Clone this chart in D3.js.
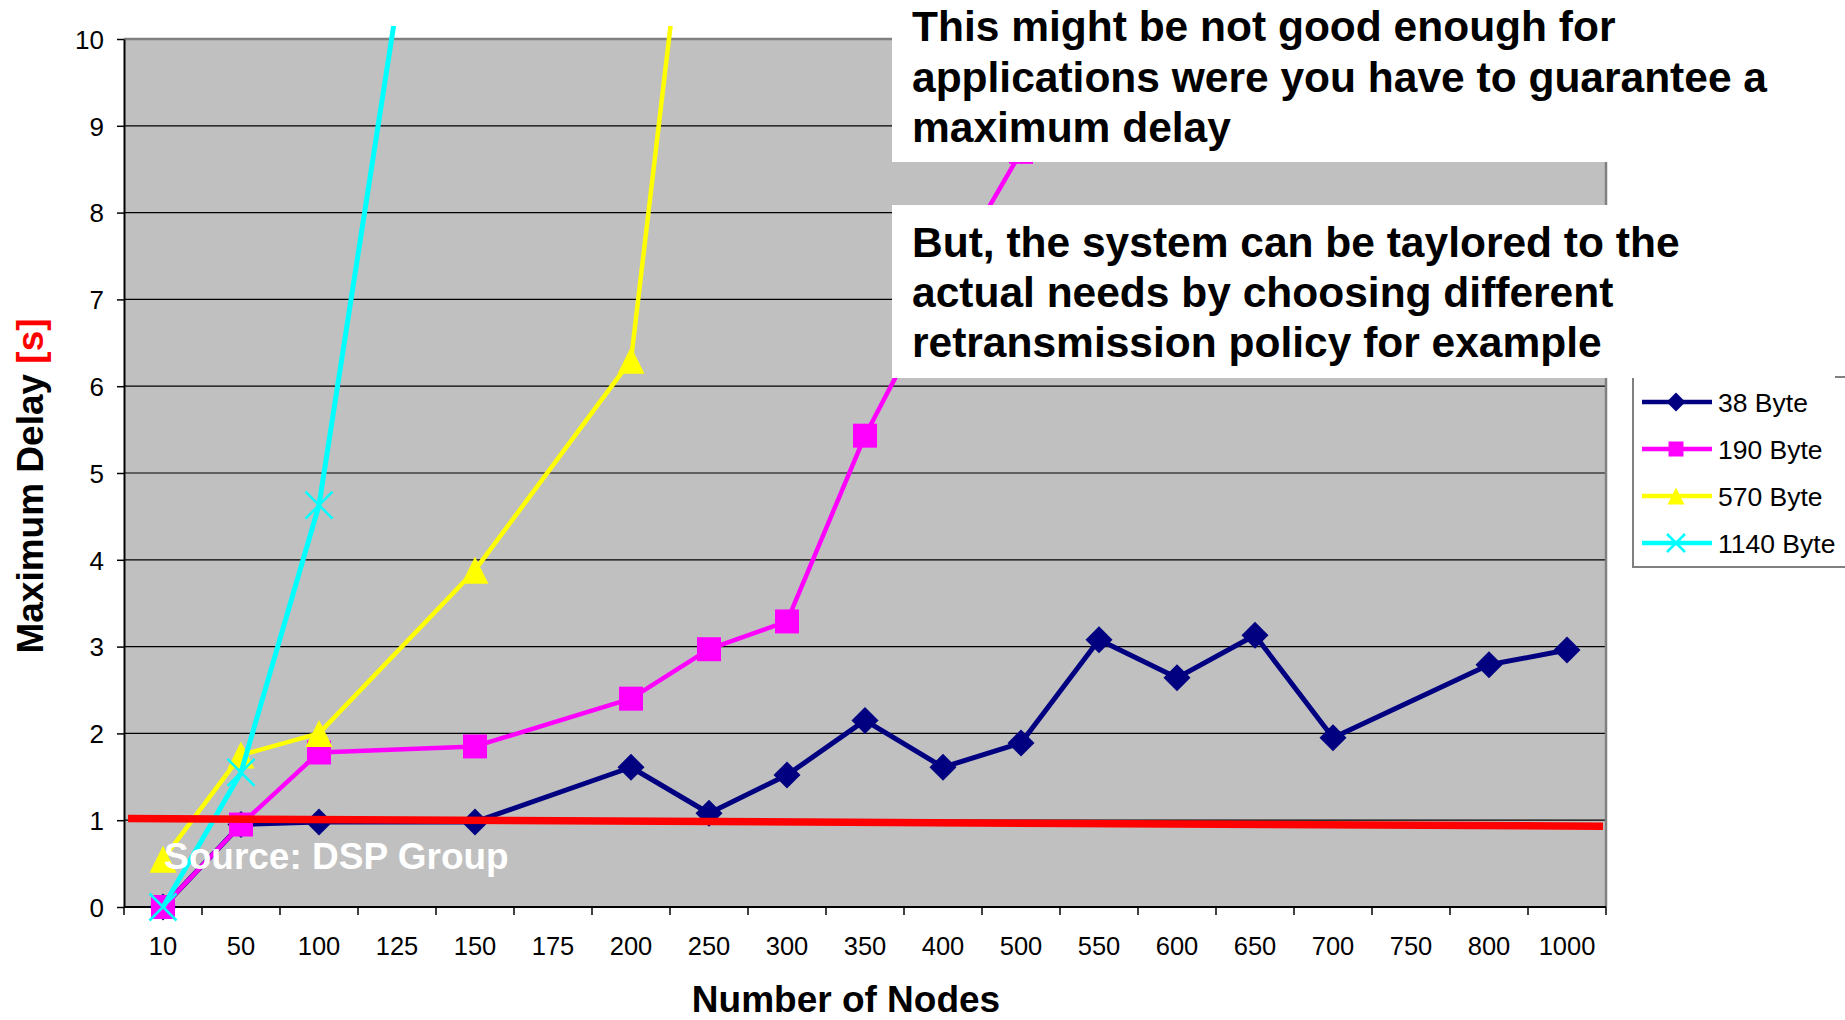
<!DOCTYPE html>
<html>
<head>
<meta charset="utf-8">
<script src="https://cdn.jsdelivr.net/npm/d3@7"></script>
<style>
  body { margin: 0; background: #fff; }
  svg { display: block; }
  text { font-family: "Liberation Sans", Arial, sans-serif; }
</style>
</head>
<body>
<svg id="chart" width="1845" height="1020"></svg>
<script>
// categories on the x axis (number of nodes)
const nodes = ['10', '50', '100', '125', '150', '175', '200', '250', '300', '350',
               '400', '500', '550', '600', '650', '700', '750', '800', '1000'];

// maximum delay [s] per packet size, null = no measurement
const byte38   = [0, 0.95, 0.98, null, 0.98, null, 1.61, 1.08, 1.52, 2.15,
                  1.61, 1.89, 3.08, 2.64, 3.13, 1.95, null, 2.79, 2.96];
const byte190  = [0, 0.95, 1.78, null, 1.85, null, 2.40, 2.97, 3.29, 5.43,
                  7.15, 8.70, null, null, null, null, null, null, null];
const byte570  = [0.55, 1.75, 2.0, null, 3.88, null, 6.3, 13.9, null, null,
                  null, null, null, null, null, null, null, null, null];
const byte1140 = [0, 1.55, 4.63, 10.4, null, null, null, null, null, null,
                  null, null, null, null, null, null, null, null, null];

const seriesNames = ['38 Byte', '190 Byte', '570 Byte', '1140 Byte'];
const yTicks = [0, 1, 2, 3, 4, 5, 6, 7, 8, 9, 10];

// the hand drawn "1 s" limit, value at left and right end of the plot
const limitLine = [1.02, 0.93];

const noteTop = ['This might be not good enough for',
                 'applications were you have to guarantee a',
                 'maximum delay'];
const noteBottom = ['But, the system can be taylored to the',
                    'actual needs by choosing different',
                    'retransmission policy for example'];

const series = [
  {name: seriesNames[0], values: byte38,   color: '#000080', width: 5,   marker: 'diamond'},
  {name: seriesNames[1], values: byte190,  color: '#FF00FF', width: 4.5, marker: 'square'},
  {name: seriesNames[2], values: byte570,  color: '#FFFF00', width: 4.5, marker: 'triangle'},
  {name: seriesNames[3], values: byte1140, color: '#00FFFF', width: 5,   marker: 'cross'}
];

const svg = d3.select('#chart');
const plot = {left: 124, right: 1606, top: 39, bottom: 907};

const x = d3.scaleBand().domain(nodes).range([plot.left, plot.right]);
const y = d3.scaleLinear().domain([0, 10]).range([plot.bottom, plot.top]);
const cx = c => x(c) + x.bandwidth() / 2;

// marker shapes, s = full size
function markerPath(type, s) {
  const h = s / 2;
  if (type === 'diamond') return `M0,${-h}L${h},0L0,${h}L${-h},0Z`;
  if (type === 'square') return `M${-h},${-h}H${h}V${h}H${-h}Z`;
  if (type === 'triangle') return `M0,${-h}L${h},${h}H${-h}Z`;
  return `M${-h},${-h}L${h},${h}M${h},${-h}L${-h},${h}`;
}

// plot background
svg.append('rect')
  .attr('x', plot.left).attr('y', plot.top)
  .attr('width', plot.right - plot.left).attr('height', plot.bottom - plot.top)
  .attr('fill', '#C0C0C0');

// grid lines
svg.append('g').selectAll('line')
  .data(yTicks.filter(t => t > 0 && t < 10))
  .join('line')
  .attr('x1', plot.left).attr('x2', plot.right)
  .attr('y1', d => y(d)).attr('y2', d => y(d))
  .attr('stroke', '#000').attr('stroke-width', 1.2);

// top and right border
svg.append('path')
  .attr('d', `M${plot.left},${plot.top}H${plot.right}V${plot.bottom}`)
  .attr('fill', 'none').attr('stroke', '#808080').attr('stroke-width', 2.5);

// y axis
const yAxis = svg.append('g')
  .attr('transform', `translate(${plot.left},0)`)
  .call(d3.axisLeft(y).tickValues(yTicks).tickSize(7).tickPadding(13).tickSizeOuter(0));
yAxis.select('.domain').attr('stroke', '#000').attr('stroke-width', 2);
yAxis.selectAll('.tick line').attr('stroke', '#000').attr('stroke-width', 1.5);
yAxis.selectAll('.tick text')
  .attr('font-size', 26).attr('fill', '#000').attr('dy', '0.36em')
  .style('font-family', '"Liberation Sans", Arial, sans-serif');

// x axis: line, ticks between categories, labels centred in the bands
svg.append('line')
  .attr('x1', plot.left).attr('x2', plot.right)
  .attr('y1', plot.bottom).attr('y2', plot.bottom)
  .attr('stroke', '#000').attr('stroke-width', 2);

svg.append('g').selectAll('line')
  .data(nodes.concat(['end']))
  .join('line')
  .attr('x1', d => d === 'end' ? plot.right : x(d))
  .attr('x2', d => d === 'end' ? plot.right : x(d))
  .attr('y1', plot.bottom).attr('y2', plot.bottom + 8)
  .attr('stroke', '#000').attr('stroke-width', 1.5);

svg.append('g').selectAll('text')
  .data(nodes)
  .join('text')
  .attr('x', d => cx(d))
  .attr('y', 955)
  .attr('text-anchor', 'middle')
  .attr('font-size', 25.5)
  .text(d => d);

// axis titles
svg.append('text')
  .attr('x', 846).attr('y', 1012)
  .attr('text-anchor', 'middle')
  .attr('font-size', 37).attr('font-weight', 'bold')
  .text('Number of Nodes');

const yTitle = svg.append('text')
  .attr('transform', 'translate(43,486) rotate(-90)')
  .attr('text-anchor', 'middle')
  .attr('font-size', 37).attr('font-weight', 'bold');
yTitle.append('tspan').text('Maximum Delay ');
yTitle.append('tspan').attr('fill', '#FF0000').text('[s]');

// series (clipped a little above the plot top like the original)
svg.append('defs').append('clipPath').attr('id', 'clip')
  .append('rect')
  .attr('x', 0).attr('y', plot.top - 13)
  .attr('width', 1845).attr('height', 1020);

const layer = svg.append('g').attr('clip-path', 'url(#clip)');
const line = d3.line().x(d => cx(d.cat)).y(d => y(d.v));

series.forEach(s => {
  const pts = nodes.map((c, i) => ({cat: c, v: s.values[i]})).filter(d => d.v !== null);
  const g = layer.append('g');
  g.append('path')
    .attr('d', line(pts))
    .attr('fill', 'none')
    .attr('stroke', s.color)
    .attr('stroke-width', s.width)
    .attr('stroke-linejoin', 'round');
  const size = {diamond: 27, square: 24, triangle: 27, cross: 27}[s.marker];
  g.selectAll('path.mk')
    .data(pts)
    .join('path')
    .attr('class', 'mk')
    .attr('transform', d => `translate(${cx(d.cat)},${y(d.v)})`)
    .attr('d', markerPath(s.marker, size))
    .attr('fill', s.marker === 'cross' ? 'none' : s.color)
    .attr('stroke', s.marker === 'cross' ? s.color : 'none')
    .attr('stroke-width', 2.5);
});

// red limit line
svg.append('line')
  .attr('x1', plot.left + 4).attr('x2', plot.right - 3)
  .attr('y1', y(limitLine[0])).attr('y2', y(limitLine[1]))
  .attr('stroke', '#FF0000').attr('stroke-width', 7.5);

// source note
svg.append('text')
  .attr('x', 164).attr('y', 869)
  .attr('font-size', 37).attr('font-weight', 'bold')
  .attr('fill', '#fff')
  .text('Source: DSP Group');

// legend
const legend = svg.append('g');
legend.append('rect')
  .attr('x', 1633).attr('y', 377)
  .attr('width', 260).attr('height', 190)
  .attr('fill', '#fff').attr('stroke', '#808080').attr('stroke-width', 2);

const legendSize = {diamond: 19, square: 15, triangle: 17, cross: 18};
const item = legend.selectAll('g.item')
  .data(series)
  .join('g')
  .attr('class', 'item')
  .attr('transform', (d, i) => `translate(0,${402 + i * 47})`);
item.append('line')
  .attr('x1', 1642).attr('x2', 1712)
  .attr('stroke', d => d.color).attr('stroke-width', 4.5);
item.append('path')
  .attr('transform', 'translate(1676,0)')
  .attr('d', d => markerPath(d.marker, legendSize[d.marker]))
  .attr('fill', d => d.marker === 'cross' ? 'none' : d.color)
  .attr('stroke', d => d.marker === 'cross' ? d.color : 'none')
  .attr('stroke-width', 2.5);
item.append('text')
  .attr('x', 1718).attr('y', 9.5)
  .attr('font-size', 26.5)
  .text(d => d.name);

// annotation boxes
function note(lines, top, bottom, right, firstBaseline, step) {
  svg.append('rect')
    .attr('x', 892).attr('y', top)
    .attr('width', right - 892).attr('height', bottom - top)
    .attr('fill', '#fff');
  svg.append('g').selectAll('text')
    .data(lines)
    .join('text')
    .attr('x', 912)
    .attr('y', (d, i) => firstBaseline + i * step)
    .attr('font-size', 42.5).attr('font-weight', 'bold')
    .text(d => d);
}
note(noteTop, 0, 162, 1845, 41, 50.5);
note(noteBottom, 205, 378, 1835, 257, 50);
</script>
</body>
</html>
